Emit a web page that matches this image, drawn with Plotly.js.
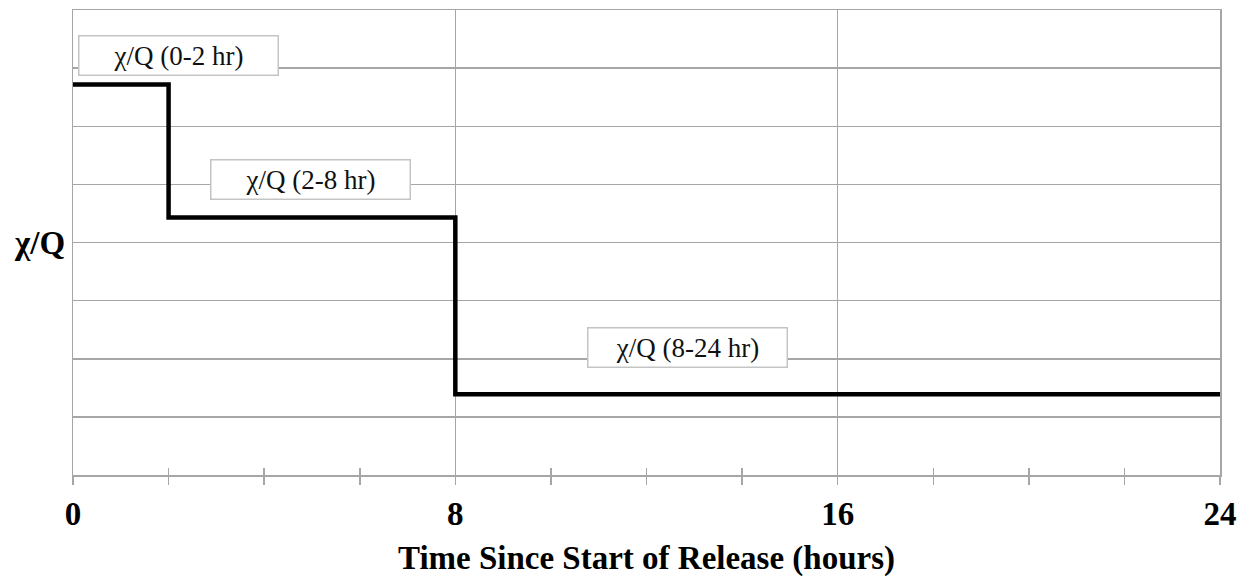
<!DOCTYPE html>
<html><head><meta charset="utf-8">
<script src="https://cdn.plot.ly/plotly-3.0.1.min.js"></script>
<style>body{margin:0;background:#fff}#chart{width:1250px;height:580px}</style>
</head><body><div id="chart"></div>
<script>
const stepHours = [0, 2, 8, 24];
const chiQ = [6.72, 4.43, 1.39, 1.39];
const labelTexts = ['χ/Q (0-2 hr)', 'χ/Q (2-8 hr)', 'χ/Q (8-24 hr)'];
const labelX = [2.2, 4.97, 12.85];
const labelY = [7.22, 5.09, 2.2];
const xTicks = [0, 8, 16, 24];
const minorTicks = [2, 4, 6, 10, 12, 14, 18, 20, 22];

const serif = '"Liberation Serif", "Times New Roman", Times, serif';
const grid = '#a6a6a6';

const annotations = labelTexts.map((t, i) => ({
  x: labelX[i], y: labelY[i], xref: 'x', yref: 'y', text: t, showarrow: false,
  font: {family: serif, size: 27, color: '#111'},
  bgcolor: '#fff', bordercolor: '#c4c4c4', borderwidth: 1.5,
  width: 196, height: 36, align: 'center', valign: 'middle'
}));
annotations.push({
  xref: 'paper', yref: 'paper', x: -0.029, y: 0.5, xanchor: 'center', yanchor: 'middle',
  text: '<b>χ/Q</b>', showarrow: false, font: {family: serif, size: 33, color: '#000'}
});

Plotly.newPlot('chart', [{
  x: stepHours, y: chiQ, type: 'scatter', mode: 'lines',
  line: {shape: 'hv', color: '#000', width: 4.5}, hoverinfo: 'skip'
}, {
  x: [], y: [], xaxis: 'x2', yaxis: 'y', type: 'scatter', mode: 'lines', hoverinfo: 'skip'
}], {
  width: 1250, height: 580,
  margin: {l: 73, r: 30, t: 10, b: 105},
  paper_bgcolor: '#fff', plot_bgcolor: '#fff', showlegend: false,
  font: {family: serif},
  xaxis: {
    range: [0, 24], tickvals: xTicks, ticktext: xTicks.map(String),
    showgrid: true, gridcolor: grid, gridwidth: 1.5,
    showline: true, linecolor: grid, linewidth: 1.5, mirror: true,
    ticks: 'outside', ticklen: 8, tickcolor: grid, tickwidth: 1.5,
    minor: {tickvals: minorTicks, ticks: 'outside', ticklen: 8, tickcolor: grid, tickwidth: 1.5, showgrid: false},
    tickfont: {family: serif, size: 33, color: '#000', weight: 'bold'},
    ticklabelstandoff: 1,
    zeroline: false,
    title: {text: 'Time Since Start of Release (hours)', standoff: 15,
            font: {family: serif, size: 33, color: '#000', weight: 'bold'}}
  },
  xaxis2: {
    range: [0, 24], overlaying: 'x', side: 'bottom', anchor: 'y',
    tickvals: minorTicks, showticklabels: false, ticks: 'inside', ticklen: 7,
    tickcolor: grid, tickwidth: 1.5, showgrid: false, showline: false, zeroline: false
  },
  yaxis: {
    range: [0, 8], dtick: 1, showticklabels: false,
    showgrid: true, gridcolor: grid, gridwidth: 1.5,
    showline: true, linecolor: grid, linewidth: 1.5, mirror: true,
    ticks: '', zeroline: false
  },
  annotations: annotations
}, {displayModeBar: false, staticPlot: true});
</script></body></html>
